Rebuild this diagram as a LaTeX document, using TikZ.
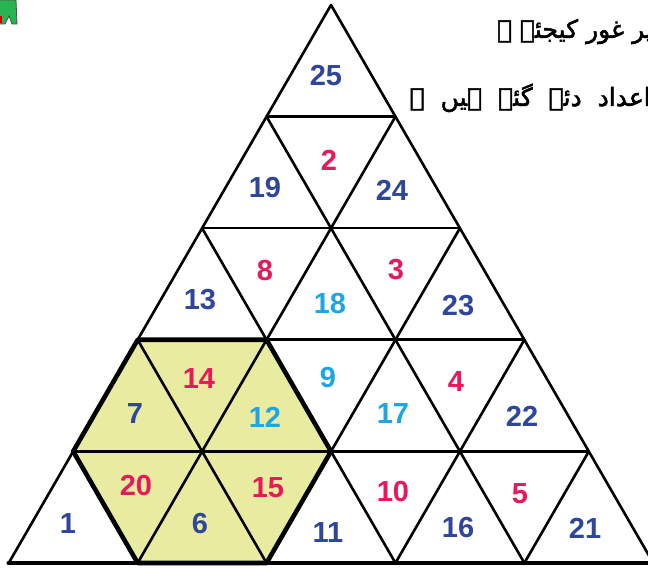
\documentclass[tikz,border=0pt]{standalone}
\usepackage{fontspec}
\setmainfont{Liberation Sans}
\newfontfamily\urdufont[Script=Arabic,FakeBold=2]{DejaVu Sans}
\TeXXeTstate=1
\definecolor{numblue}{RGB}{46,70,155}
\definecolor{numred}{RGB}{232,24,90}
\definecolor{numcyan}{RGB}{30,165,230}
\definecolor{hexfill}{RGB}{232,235,160}
\definecolor{blobgreen}{RGB}{40,180,80}
\tikzset{
  num/.style={font=\fontsize{29}{29}\selectfont\bfseries, inner sep=0pt},
  nb/.style={num, text=numblue},
  nr/.style={num, text=numred},
  nc/.style={num, text=numcyan},
  gridline/.style={line width=2.6pt, line cap=round, line join=round},
  hexline/.style={line width=4.6pt, line join=round, line cap=round},
  urdu/.style={font=\urdufont\fontsize{25}{25}\selectfont, inner sep=0pt, anchor=base east}
}
\begin{document}
\begin{tikzpicture}[x=1pt,y=-1pt]
\useasboundingbox (0,0) rectangle (648,569);
\fill[white] (0,0) rectangle (648,569);
% lattice points
\foreach \r in {0,...,5}{
  \foreach \i in {0,...,\r}{
    \coordinate (p-\r-\i) at ({331+(\i-\r/2)*128.9},{5+\r*111.6});
  }
}
% green fragment top-left
\fill[blobgreen, draw=black!70, line width=0.8pt] (-2,0) -- (16,0) -- (17,24) -- (12,24) -- (9,16) -- (5,24) -- (-2,24) -- cycle;
\fill[red!80!black] (-1,16) rectangle (2,23);
% hexagon fill
\fill[hexfill] (p-3-0) -- (p-3-1) -- (p-4-2) -- (p-5-2) -- (p-5-1) -- (p-4-0) -- cycle;
% horizontal lines
\foreach \r in {1,...,4}{
  \draw[gridline] (p-\r-0) -- (p-\r-\r);
}
% lines parallel to left edge
\foreach \i in {0,...,4}{
  \draw[gridline] (p-\i-\i) -- (p-5-\i);
}
% lines parallel to right edge
\foreach \d [evaluate=\d as \e using int(5-\d)] in {0,...,4}{
  \draw[gridline] (p-\d-0) -- (p-5-\e);
}
% base line
\draw[hexline] (p-5-0) -- (p-5-5);
% hexagon outline
\draw[hexline] (p-3-0) -- (p-3-1) -- (p-4-2) -- (p-5-2) -- (p-5-1) -- (p-4-0) -- cycle;
% numbers
\node[nb] (n25) at (326,76) {25};
\node[nb] (n19) at (265,188) {19};
\node[nr] (n2) at (329,160) {2};
\node[nb] (n24) at (392,190) {24};
\node[nb] (n13) at (200,300) {13};
\node[nr] (n8) at (265,271) {8};
\node[nc] (n18) at (330,304) {18};
\node[nr] (n3) at (396,270) {3};
\node[nb] (n23) at (458,306) {23};
\node[nb] (n7) at (135,414) {7};
\node[nr] (n14) at (199,379) {14};
\node[nc] (n12) at (265,417) {12};
\node[nc] (n9) at (328,378) {9};
\node[nc] (n17) at (393,414) {17};
\node[nr] (n4) at (456,382) {4};
\node[nb] (n22) at (522,416) {22};
\node[nb] (n1) at (68,524) {1};
\node[nr] (n20) at (136,486) {20};
\node[nb] (n6) at (200,524) {6};
\node[nr] (n15) at (268,488) {15};
\node[nb] (n11) at (328,533) {11};
\node[nr] (n10) at (393,492) {10};
\node[nb] (n16) at (458,528) {16};
\node[nr] (n5) at (520,494) {5};
\node[nb] (n21) at (585,528) {21};
% Urdu text (cut at right edge)
\node[urdu] (t1) at (653,38) {\beginR پر غور کیجئے ۔\endR};
\node[urdu] (t2) at (651,106) {\spaceskip=16pt\beginR اعداد دئے گئے ہیں ۔\endR};
\end{tikzpicture}
\end{document}
